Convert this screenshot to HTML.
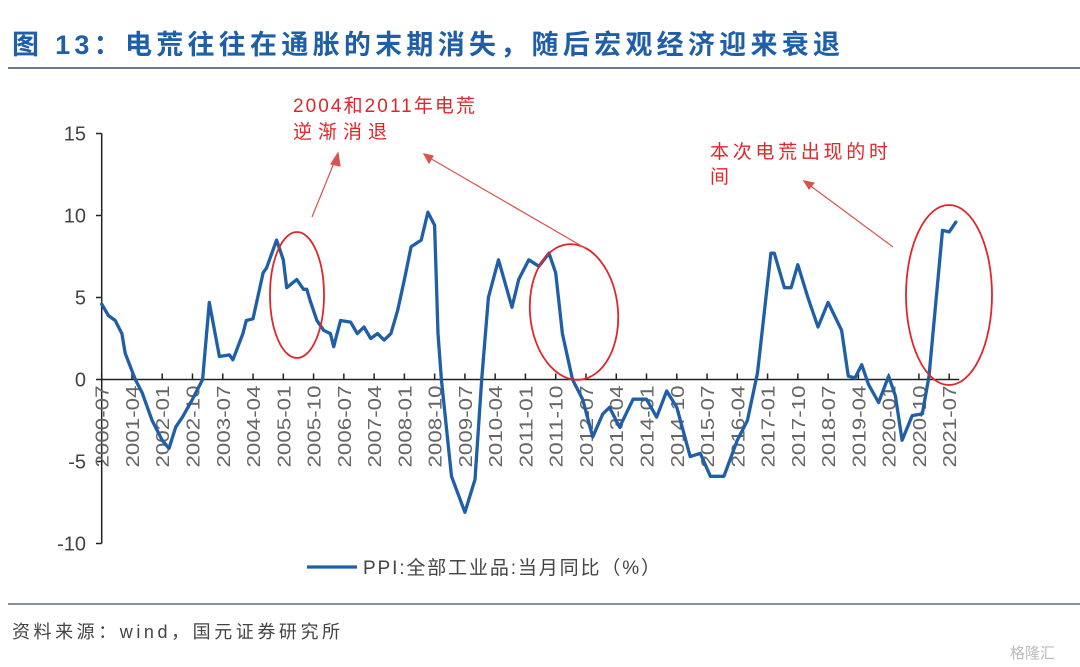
<!DOCTYPE html>
<html><head><meta charset="utf-8">
<style>
body{margin:0;background:#fff;width:1080px;height:667px;overflow:hidden;}
svg{display:block;font-family:"Liberation Sans","Noto Sans CJK SC",sans-serif;}
</style></head>
<body>
<svg id="chart" width="1080" height="667" viewBox="0 0 1080 667">
<text x="12" y="54" font-size="27" font-weight="bold" fill="#1f5fa8" textLength="828" lengthAdjust="spacing">图 13：电荒往往在通胀的末期消失，随后宏观经济迎来衰退</text>
<line x1="8" y1="68" x2="1080" y2="68" stroke="#3a4f6a" stroke-width="1.5"/>
<g id="axes"></g>
<path id="series" fill="none" stroke="#1f5fa8" stroke-width="3.3" stroke-linejoin="round" stroke-linecap="round"/>
<g fill="none" stroke="#e0262b" stroke-width="1.8">
<ellipse cx="297" cy="295" rx="27" ry="63"/>
<ellipse cx="574" cy="312" rx="44" ry="68" transform="rotate(-5 574 312)"/>
<ellipse cx="949" cy="295" rx="43" ry="90"/>
</g>
<g stroke="#d9534f" stroke-width="1.2" fill="#d9534f">
<line x1="312" y1="217" x2="336" y2="158"/><polygon points="338,153 331,164 340,166"/>
<line x1="585" y1="248" x2="428" y2="157"/><polygon points="424,154 433,156 429,163"/>
<line x1="893" y1="247" x2="808" y2="184"/><polygon points="804,181 814,183 809,189"/>
</g>
<g fill="#e0262b" font-size="19">
<text x="293" y="112" textLength="182" lengthAdjust="spacing">2004和2011年电荒</text>
<text x="293" y="138" textLength="94" lengthAdjust="spacing">逆渐消退</text>
<text x="710" y="158" textLength="178" lengthAdjust="spacing">本次电荒出现的时</text>
<text x="710" y="183">间</text>
</g>
<g>
<line x1="307" y1="567" x2="357" y2="567" stroke="#1f5fa8" stroke-width="3.3"/>
<text x="363" y="574" font-size="19" fill="#444" textLength="297" lengthAdjust="spacing">PPI:全部工业品:当月同比（%）</text>
</g>
<line x1="8" y1="604" x2="1080" y2="604" stroke="#3a4f6a" stroke-width="1.2"/>
<text x="12" y="638" font-size="18" fill="#444" textLength="328" lengthAdjust="spacing">资料来源：wind，国元证券研究所</text>
<text x="1010" y="658" font-size="15" fill="#bbb">格隆汇</text>
</svg>
<script>
const monthOffsets=[0,2,4,6,7,10,12,15,18,20,22,24,27,30,32,35,38,39,42,43,45,48,49,52,54,55,58,60,61,62,64,66,68,69,71,74,76,78,80,82,84,86,88,90,92,95,97,99,100,101,104,108,111,113,115,118,122,124,127,130,133,135,137,140,143,146,149,151,154,158,162,165,168,171,175,178,181,185,189,192,195,199,200,203,205,207,210,213,216,220,222,224,226,228,231,234,236,238,241,244,246,250,252,254];
const ppiValues=[4.6,3.9,3.6,2.8,1.6,0,-0.8,-2.5,-3.7,-4.2,-2.9,-2.3,-1.2,0,4.7,1.4,1.5,1.2,2.8,3.6,3.7,6.5,6.8,8.5,7.3,5.6,6.1,5.5,5.5,4.8,3.6,3.0,2.8,2.0,3.6,3.5,2.8,3.2,2.5,2.8,2.4,2.8,4.2,6.1,8.1,8.5,10.2,9.4,2.8,0,-5.9,-8.1,-6.1,0,5.0,7.3,4.4,6.1,7.3,6.9,7.7,6.5,2.8,0,-1.2,-3.5,-2.1,-1.7,-2.9,-1.2,-1.2,-2.3,-0.7,-1.7,-4.7,-4.5,-5.9,-5.9,-3.7,-2.5,0.4,7.7,7.7,5.6,5.6,7.0,5.0,3.2,4.7,3.0,0.2,0.1,0.9,-0.3,-1.4,0.2,-1.0,-3.7,-2.2,-2.1,0.2,9.1,9.0,9.6];
const yTicks=[15,10,5,0,-5,-10];
const xTickLabels=["2000-07","2001-04","2002-01","2002-10","2003-07","2004-04","2005-01","2005-10","2006-07","2007-04","2008-01","2008-10","2009-07","2010-04","2011-01","2011-10","2012-07","2013-04","2014-01","2014-10","2015-07","2016-04","2017-01","2017-10","2018-07","2019-04","2020-01","2020-10","2021-07"];
const NS="http://www.w3.org/2000/svg";
const xScale=m=>101.7+m*3.363;
const yScale=v=>379.5-v*16.4;
const axes=document.getElementById('axes');
function mk(tag,attrs){const e=document.createElementNS(NS,tag);for(const k in attrs)e.setAttribute(k,attrs[k]);return e;}
const yAxis=mk('line',{x1:101.7,y1:yScale(15),x2:101.7,y2:yScale(-10),stroke:'#222','stroke-width':1.5});


axes.appendChild(yAxis);
yTicks.forEach(v=>{
  const t=mk('line',{x1:96,y1:yScale(v),x2:101.7,y2:yScale(v),stroke:'#222','stroke-width':1.5});
  
  
  axes.appendChild(t);
  const l=mk('text',{x:86,y:yScale(v)+7,'text-anchor':'end','font-size':20,fill:'#444'});
  l.textContent=v;
  
  
  axes.appendChild(l);
});
const xAxis=mk('line',{x1:101.7,y1:yScale(0),x2:xScale(255),y2:yScale(0),stroke:'#222','stroke-width':1.5});


axes.appendChild(xAxis);
xTickLabels.forEach((s,i)=>{
  const x=xScale(i*9);
  const t=mk('line',{x1:x,y1:yScale(0)-6,x2:x,y2:yScale(0),stroke:'#222','stroke-width':1.5});
  
  
  axes.appendChild(t);
  const l=mk('text',{x:0,y:0,'text-anchor':'end','font-size':18,fill:'#666',textLength:82,lengthAdjust:'spacingAndGlyphs',transform:`translate(${x+7},${yScale(0)+6}) rotate(-90)`});
  l.textContent=s;
  
  
  axes.appendChild(l);
});
let d='';
monthOffsets.forEach((m,i)=>{d+=(i?'L':'M')+xScale(m).toFixed(1)+','+yScale(ppiValues[i]).toFixed(1);});
document.getElementById('series').setAttribute('d',d);
</script>
</body></html>
